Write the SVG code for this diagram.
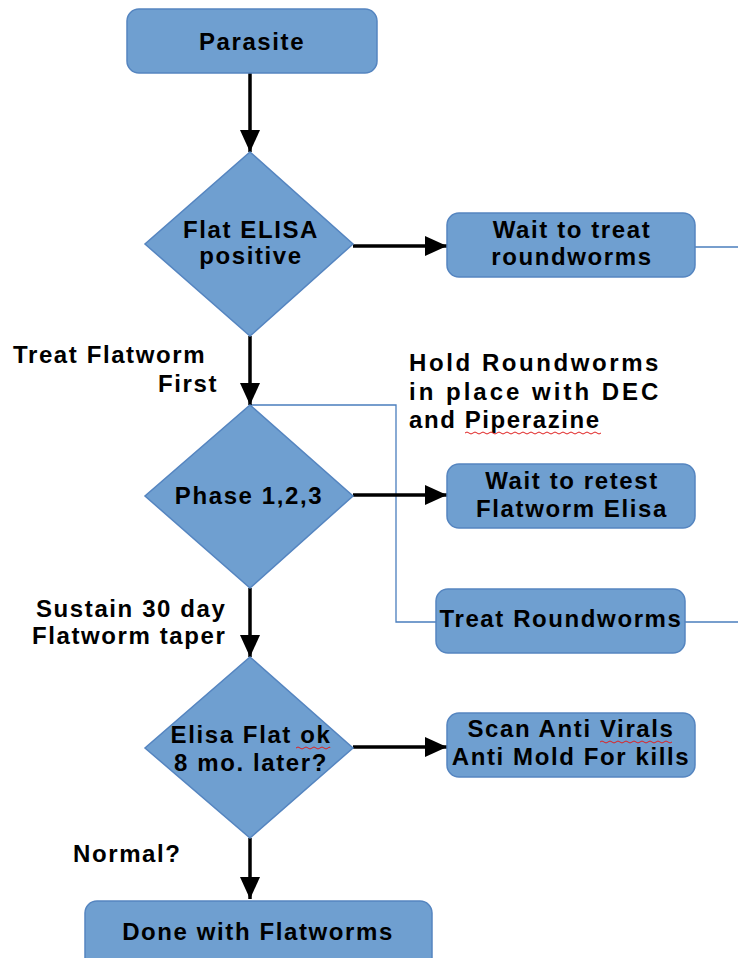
<svg xmlns="http://www.w3.org/2000/svg" width="738" height="958" viewBox="0 0 738 958">
<defs>
<style>
.node{fill:#6f9fd0;stroke:#5585c0;stroke-width:1.5}
.t{font-family:"Liberation Sans",Arial,sans-serif;font-weight:bold;font-size:24px;letter-spacing:1.6px;fill:#000}
.c{text-anchor:middle}
.arrow{stroke:#000;stroke-width:3.5;fill:none;marker-end:url(#ah)}
.thin{stroke:#4a7ebd;stroke-width:1.3;fill:none}
.sq{stroke:#e02020;stroke-width:1;fill:none}
</style>
<marker id="ah" markerUnits="userSpaceOnUse" markerWidth="24" markerHeight="20" refX="22" refY="10" orient="auto">
<path d="M0,0 L22,10 L0,20 z" fill="#000"/>
</marker>
</defs>
<rect width="738" height="958" fill="#fff"/>
<g id="connectors">
<path class="thin" d="M250,405 H396 V622 H436"/>
<path class="thin" d="M685,622 H738"/>
<path class="thin" d="M695,247 H738"/>
<path class="arrow" d="M250,73 V152"/>
<path class="arrow" d="M353,246 H447"/>
<path class="arrow" d="M250,336 V405"/>
<path class="arrow" d="M353,495 H447"/>
<path class="arrow" d="M250,588 V657"/>
<path class="arrow" d="M353,747 H447"/>
<path class="arrow" d="M250,838 V899"/>
</g>
<g id="parasite">
<rect class="node" x="127" y="9" width="250" height="64" rx="12"/>
<text class="t c" x="252" y="50">Parasite</text>
</g>
<g id="flat-elisa">
<polygon class="node" points="250,152 353,244 250,336 145,244"/>
<text class="t c" x="251" y="238">Flat ELISA</text>
<text class="t c" x="251" y="264">positive</text>
</g>
<g id="wait-treat">
<rect class="node" x="447" y="213" width="248" height="64" rx="12"/>
<text class="t c" x="572" y="238">Wait to treat</text>
<text class="t c" x="572" y="265">roundworms</text>
</g>
<g id="label-treat-flatworm">
<text class="t" x="13" y="363">Treat Flatworm</text>
<text class="t" x="158" y="392">First</text>
</g>
<g id="label-hold">
<text class="t" x="409" y="371" textLength="251" lengthAdjust="spacing">Hold  Roundworms</text>
<text class="t" x="409" y="400" textLength="251" lengthAdjust="spacing">in place with DEC</text>
<text class="t" x="409" y="428">and Piperazine</text>
<path class="sq" d="M465,433 q2,-2 4,0 t4,0 t4,0 t4,0 t4,0 t4,0 t4,0 t4,0 t4,0 t4,0 t4,0 t4,0 t4,0 t4,0 t4,0 t4,0 t4,0 t4,0 t4,0 t4,0 t4,0 t4,0 t4,0 t4,0 t4,0 t4,0 t4,0 t4,0 t4,0 t4,0 t4,0 t4,0 t4,0 t4,0"/>
</g>
<g id="phase">
<polygon class="node" points="250,405 353,496 250,588 145,496"/>
<text class="t c" x="249" y="504">Phase 1,2,3</text>
</g>
<g id="wait-retest">
<rect class="node" x="447" y="464" width="248" height="64" rx="12"/>
<text class="t c" x="572" y="489">Wait to retest</text>
<text class="t c" x="572" y="517">Flatworm Elisa</text>
</g>
<g id="treat-roundworms">
<rect class="node" x="436" y="589" width="249" height="64" rx="12"/>
<text class="t c" x="561" y="627">Treat Roundworms</text>
</g>
<g id="label-sustain">
<text class="t" x="36" y="617">Sustain 30 day</text>
<text class="t" x="32" y="644">Flatworm taper</text>
</g>
<g id="elisa-flat-ok">
<polygon class="node" points="250,657 353,748 250,838 145,748"/>
<text class="t c" x="251" y="743">Elisa Flat ok</text>
<text class="t c" x="251" y="771">8 mo. later?</text>
<path class="sq" d="M296,748 q2,-2 4,0 t4,0 t4,0 t4,0 t4,0 t4,0 t4,0 t4,0 t2,0"/>
</g>
<g id="scan">
<rect class="node" x="447" y="713" width="248" height="64" rx="12"/>
<text class="t c" x="571" y="737">Scan Anti Virals</text>
<text class="t c" x="571" y="765">Anti Mold For kills</text>
<path class="sq" d="M600,742 q2,-2 4,0 t4,0 t4,0 t4,0 t4,0 t4,0 t4,0 t4,0 t4,0 t4,0 t4,0 t4,0 t4,0 t4,0 t4,0 t4,0 t4,0 t4,0"/>
</g>
<g id="label-normal">
<text class="t" x="73" y="862">Normal?</text>
</g>
<g id="done">
<rect class="node" x="85" y="901" width="347" height="80" rx="12"/>
<text class="t c" x="258" y="940">Done with Flatworms</text>
</g>
</svg>
